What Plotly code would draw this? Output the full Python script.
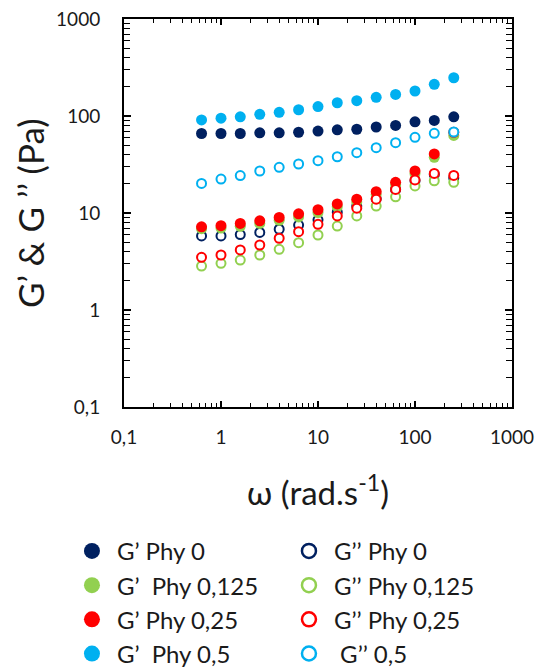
import plotly.graph_objects as go

# angular frequency (rad/s)
omega = [0.63, 1.0, 1.58, 2.51, 3.98, 6.31, 10.0, 15.8, 25.1, 39.8, 63.1, 100, 158, 251]

# storage modulus G' (Pa)
gp_phy0 = [66, 66, 66, 67, 67, 68, 70, 72, 73, 77, 80, 87, 90, 98]
gp_phy0125 = [6.9, 7.0, 7.3, 7.8, 8.4, 9.1, 10.1, 11.6, 13.0, 15.5, 19.5, 25.5, 37.5, 63]
gp_phy025 = [7.2, 7.4, 7.8, 8.3, 9.0, 9.8, 10.8, 12.4, 13.9, 16.6, 20.7, 27.1, 40.6, 68]
gp_phy05 = [91, 95, 98, 104, 109, 116, 125, 137, 144, 156, 167, 181, 212, 248]

# loss modulus G'' (Pa)
gpp_phy0 = [5.8, 5.8, 6.0, 6.3, 6.8, 7.5, 8.5, 10.2, 11.8, 14.0, 17.5, 21.5, 25, 23]
gpp_phy0125 = [2.84, 3.03, 3.27, 3.69, 4.22, 4.94, 5.93, 7.34, 9.32, 11.8, 14.7, 19.0, 21.5, 20.7]
gpp_phy025 = [3.49, 3.69, 4.16, 4.68, 5.49, 6.41, 7.65, 9.32, 11.2, 13.9, 17.5, 21.9, 25.6, 24.4]
gpp_phy05 = [20.2, 22.4, 24.3, 27.1, 29.6, 32.0, 34.6, 38.0, 41.9, 47.1, 53.1, 60.3, 66.3, 68.4]

tick_vals = [0.1, 1, 10, 100, 1000]
tick_text = ["0,1", "1", "10", "100", "1000"]

NAVY = "#002060"
GREEN = "#92D050"
RED = "#FF0000"
LBLUE = "#00B0F0"

series = [
    ("G’ Phy 0", gp_phy0, NAVY, True),
    ("G’’ Phy 0", gpp_phy0, NAVY, False),
    ("G’  Phy 0,125", gp_phy0125, GREEN, True),
    ("G’’ Phy 0,125", gpp_phy0125, GREEN, False),
    ("G’ Phy 0,25", gp_phy025, RED, True),
    ("G’’ Phy 0,25", gpp_phy025, RED, False),
    ("G’  Phy 0,5", gp_phy05, LBLUE, True),
    (" G’’ 0,5", gpp_phy05, LBLUE, False),
]

FONT = "Lato"
TXT = "#1a1a1a"
fig = go.Figure()
for name, vals, col, filled in series:
    if filled:
        mk = dict(symbol="circle", size=11, color=col, line=dict(width=0))
        lmk = dict(symbol="circle", size=17, color=col, line=dict(width=0))
    else:
        mk = dict(symbol="circle", size=9, color="white", line=dict(width=2, color=col))
        lmk = dict(symbol="circle", size=14, color="white", line=dict(width=2.5, color=col))
    fig.add_trace(go.Scatter(x=omega, y=vals, mode="markers", marker=mk,
                             name=name, showlegend=False, hoverinfo="x+y+name"))
    fig.add_trace(go.Scatter(x=[None], y=[None], mode="markers", marker=lmk,
                             name=name, showlegend=True))

axis_common = dict(
    type="log", range=[-1, 3], showgrid=False, zeroline=False, automargin=False,
    showline=True, linecolor="black", linewidth=2, mirror="allticks",
    ticks="inside", tickcolor="black", tickwidth=1.5,
    tickmode="array", tickvals=tick_vals, ticktext=tick_text,
    tickfont=dict(family=FONT, size=19, color=TXT),
    minor=dict(ticks="inside", dtick="D1", tickcolor="black", tickwidth=1.2, showgrid=False),
)

fig.update_xaxes(**axis_common, ticklen=6, ticklabelstandoff=12)
fig.update_xaxes(minor_ticklen=4)
fig.update_yaxes(**axis_common, ticklen=7, ticklabelstandoff=18)
fig.update_yaxes(minor_ticklen=6)

fig.update_layout(
    width=536, height=672,
    margin=dict(l=124, r=24, t=19, b=265, autoexpand=False),
    paper_bgcolor="white", plot_bgcolor="white",
    font=dict(family=FONT, color=TXT),
    showlegend=True,
    legend=dict(
        orientation="h", xref="paper", yref="paper",
        x=-0.147, y=-0.314, xanchor="left", yanchor="top",
        entrywidth=162, entrywidthmode="pixels", itemwidth=40,
        font=dict(family=FONT, size=24, color=TXT),
        itemsizing="trace", traceorder="normal",
        bgcolor="rgba(0,0,0,0)",
    ),
    annotations=[
        dict(text="ω (rad.s<sup>-1</sup>)", xref="paper", yref="paper",
             x=0.5, y=-0.214, xanchor="center", yanchor="middle", showarrow=False,
             font=dict(family=FONT, size=33, color=TXT)),
        dict(text="G’ & G ’’ (Pa)", xref="paper", yref="paper",
             x=-0.242, y=0.5, xanchor="center", yanchor="middle", textangle=-90,
             showarrow=False, font=dict(family=FONT, size=35, color=TXT)),
    ],
)

fig.write_html("out.html", config={"displayModeBar": False},
               post_script="document.body.style.margin='0';")
